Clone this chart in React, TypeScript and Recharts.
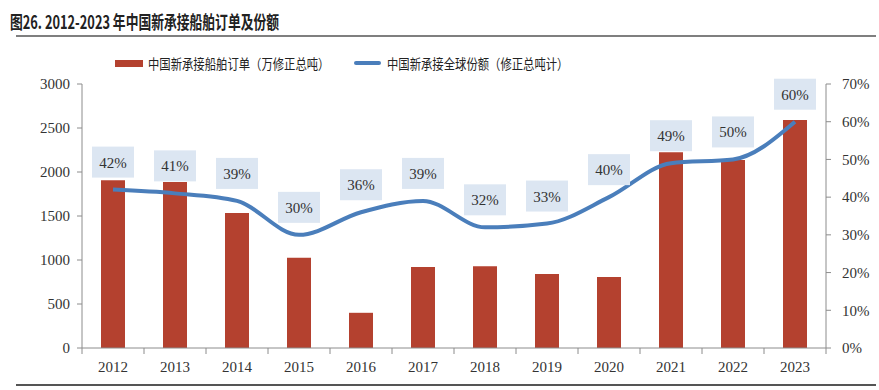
import { Bar, ComposedChart, LabelList, Line, XAxis, YAxis } from "recharts"

const years = ["2012", "2013", "2014", "2015", "2016", "2017", "2018", "2019", "2020", "2021", "2022", "2023"]
const orders = [1905, 1885, 1535, 1025, 400, 920, 930, 840, 808, 2225, 2135, 2590]
const share = [42, 41, 39, 30, 36, 39, 32, 33, 40, 49, 50, 60]
const leftTicks = [0, 500, 1000, 1500, 2000, 2500, 3000]
const rightTicks = [0, 10, 20, 30, 40, 50, 60, 70]

const data = years.map((year, i) => ({ year, orders: orders[i], share: share[i] }))

const W = 879
const H = 390
const margin = { top: 84, right: 0, bottom: 12, left: 22 }
const leftAxisW = 60
const rightAxisW = 53
const plotW = W - margin.left - margin.right - leftAxisW - rightAxisW
const halfBand = plotW / years.length / 2

const serif = "'Liberation Serif', 'DejaVu Serif', serif"
const cjk = "'Noto Sans CJK SC', sans-serif"
const axisColor = "#8c8c8c"
const textColor = "#333"

function YearTick(props: any) {
  const { x, y, payload, index } = props
  return (
    <g>
      <line x1={x - halfBand} x2={x - halfBand} y1={y} y2={y + 6} stroke={axisColor} />
      {index === years.length - 1 && (
        <line x1={x + halfBand} x2={x + halfBand} y1={y} y2={y + 6} stroke={axisColor} />
      )}
      <text x={x} y={y + 19} textAnchor="middle" dominantBaseline="central" fontSize={15} fontFamily={serif} fill={textColor}>
        {payload.value}
      </text>
    </g>
  )
}

function ShareLabel(props: any) {
  const { x, y, value } = props
  return (
    <g>
      <rect x={x - 21} y={y - 43} width={42} height={31} fill="#dce6f2" />
      <text x={x} y={y - 27} textAnchor="middle" dominantBaseline="central" fontSize={15} fontFamily={serif} fill={textColor}>
        {value}%
      </text>
    </g>
  )
}

const legendText = {
  display: "inline-block",
  fontFamily: cjk,
  fontSize: 14,
  color: "#222",
  transform: "scaleX(0.81)",
  transformOrigin: "left center",
  whiteSpace: "nowrap" as const,
}

export default function App() {
  return (
    <div style={{ position: "absolute", left: 0, top: 0, width: W, height: H, background: "#fff", overflow: "hidden" }}>
      <div
        style={{
          position: "absolute",
          left: 10,
          top: 8,
          fontFamily: cjk,
          fontWeight: 700,
          fontSize: 18,
          color: "#222",
          transform: "scaleX(0.71)",
          transformOrigin: "left center",
          whiteSpace: "nowrap",
          lineHeight: "26px",
        }}
      >
        图26. 2012-2023 年中国新承接船舶订单及份额
      </div>
      <div style={{ position: "absolute", left: 16, top: 35, width: 860, height: 2, background: "#7f7f7f" }} />
      <div style={{ position: "absolute", left: 16, top: 384, width: 860, height: 2, background: "#555" }} />

      <div style={{ position: "absolute", left: 115, top: 60, width: 28, height: 7, background: "#b4412f" }} />
      <div style={{ ...legendText, position: "absolute", left: 148, top: 53, lineHeight: "20px" }}>
        中国新承接船舶订单（万修正总吨）
      </div>
      <div style={{ position: "absolute", left: 354, top: 61, width: 27, height: 4, borderRadius: 2, background: "#4a7ebb" }} />
      <div style={{ ...legendText, position: "absolute", left: 387, top: 53, lineHeight: "20px" }}>
        中国新承接全球份额（修正总吨计）
      </div>

      <div style={{ position: "absolute", left: 0, top: 0 }}>
        <ComposedChart width={W} height={H} data={data} margin={margin}>
          <XAxis
            dataKey="year"
            stroke={axisColor}
            tickLine={false}
            tickSize={0}
            tickMargin={0}
            interval={0}
            height={30}
            tick={<YearTick />}
          />
          <YAxis
            yAxisId="left"
            width={leftAxisW}
            domain={[0, 3000]}
            ticks={leftTicks}
            stroke={axisColor}
            tickSize={5}
            tickMargin={7}
            tick={{ fill: textColor, fontSize: 15, fontFamily: serif }}
          />
          <YAxis
            yAxisId="right"
            orientation="right"
            width={rightAxisW}
            domain={[0, 70]}
            ticks={rightTicks}
            stroke={axisColor}
            tickSize={5}
            tickMargin={11}
            tickFormatter={(v) => `${v}%`}
            tick={{ fill: textColor, fontSize: 15, fontFamily: serif }}
          />
          <Bar yAxisId="left" dataKey="orders" fill="#b4412f" barSize={24} isAnimationActive={false} />
          <Line
            yAxisId="right"
            type="monotone"
            dataKey="share"
            stroke="#4a7ebb"
            strokeWidth={4}
            dot={false}
            isAnimationActive={false}
          >
            <LabelList dataKey="share" content={<ShareLabel />} />
          </Line>
        </ComposedChart>
      </div>
    </div>
  )
}
